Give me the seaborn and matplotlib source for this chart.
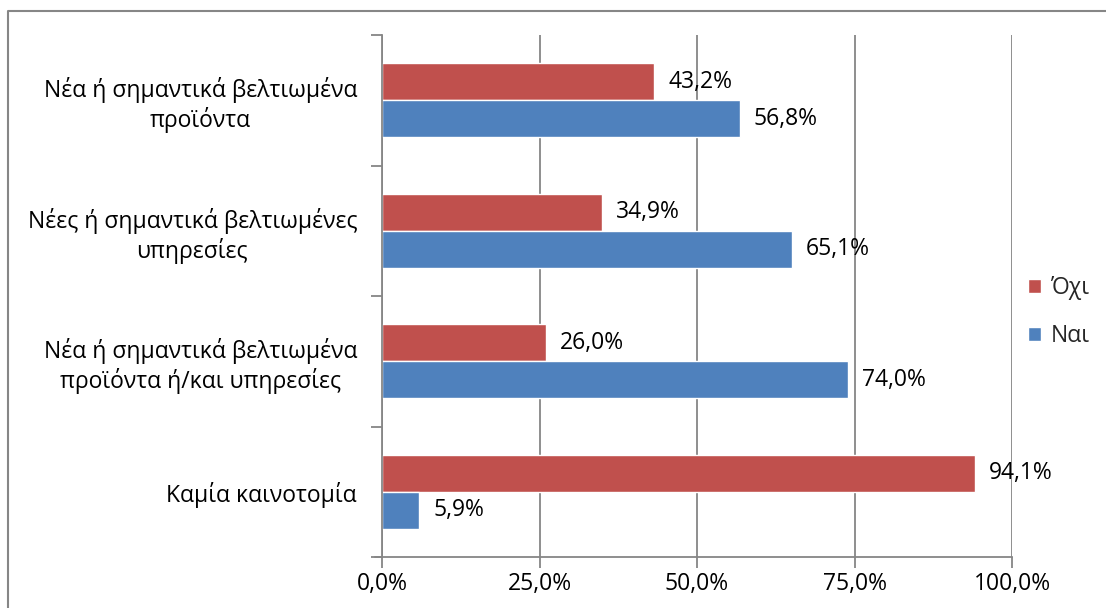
import matplotlib
matplotlib.use("Agg")
import matplotlib.pyplot as plt
import seaborn as sns
import pandas as pd
from matplotlib.lines import Line2D
from matplotlib.ticker import FixedLocator, FuncFormatter

categories = [
    "Νέα ή σημαντικά βελτιωμένα\nπροϊόντα",
    "Νέες ή σημαντικά βελτιωμένες\nυπηρεσίες",
    "Νέα ή σημαντικά βελτιωμένα\nπροϊόντα ή/και υπηρεσίες",
    "Καμία καινοτομία",
]
series_names = ["Όχι", "Ναι"]
oxi_values = [43.2, 34.9, 26.0, 94.1]
nai_values = [56.8, 65.1, 74.0, 5.9]
x_ticks = [0, 25, 50, 75, 100]

colors = {"Όχι": "#C0504D", "Ναι": "#4F81BD"}
grid_color = "#868686"

df = pd.DataFrame({
    "category": categories * 2,
    "series": [series_names[0]] * 4 + [series_names[1]] * 4,
    "value": oxi_values + nai_values,
})

sns.set_theme(style="white")
plt.rcParams["font.family"] = ["Open Sans", "DejaVu Sans"]
FS = 16.5

fig = plt.figure(figsize=(11.06, 6.08), dpi=100)
ax = fig.add_axes([382 / 1106, 1 - 557 / 608, 630 / 1106, 522 / 608])

sns.barplot(data=df, y="category", x="value", hue="series", order=categories,
            hue_order=series_names, palette=colors, orient="h", width=0.565,
            ax=ax, legend=True, saturation=1)

ax.set_xlim(0, 100)
ax.set_ylim(3.5, -0.5)
ax.set_xlabel("")
ax.set_ylabel("")

ax.xaxis.set_major_locator(FixedLocator(x_ticks))
ax.xaxis.set_major_formatter(FuncFormatter(lambda v, p: f"{v:.1f}%".replace(".", ",")))
ax.grid(axis="x", color=grid_color, linewidth=1.3)
ax.set_axisbelow(True)

for s in ["top", "right"]:
    ax.spines[s].set_visible(False)
for s in ["left", "bottom"]:
    ax.spines[s].set_color(grid_color)
    ax.spines[s].set_linewidth(1.3)

ax.tick_params(axis="x", direction="out", length=8, width=1.3, color=grid_color,
               labelsize=FS, pad=3, bottom=True)
ax.tick_params(axis="y", which="major", length=0, labelsize=FS, pad=18)
ax.yaxis.set_minor_locator(FixedLocator([-0.5, 0.5, 1.5, 2.5, 3.5]))
ax.tick_params(axis="y", which="minor", direction="out", length=8, width=1.3,
               color=grid_color, left=True)
for lab in ax.get_yticklabels():
    lab.set_multialignment("center")
    lab.set_color("black")
for lab in ax.get_xticklabels():
    lab.set_color("black")

for cont in ax.containers:
    labels = [f"{w:.1f}%".replace(".", ",") for w in cont.datavalues]
    ax.bar_label(cont, labels=labels, padding=10, fontsize=FS, color="black")

# extend bottom spine slightly left
ax.spines["bottom"].set_bounds(0, 100)
fig.add_artist(Line2D([375 / 1106, 382 / 1106], [1 - 557 / 608] * 2,
                      color=grid_color, linewidth=1.3))

leg = ax.get_legend()
handles = leg.legend_handles
leg.remove()
fig.legend(handles, series_names, loc="center left",
           bbox_to_anchor=(1012 / 1106, 1 - 312 / 608), frameon=False,
           fontsize=FS, handlelength=0.55, handleheight=0.55,
           labelspacing=1.05, handletextpad=0.45, borderpad=0.2)

# outer border (top and left)
fig.add_artist(Line2D([8 / 1106, 8 / 1106, 1.0], [0.0, 1 - 11 / 608, 1 - 11 / 608],
                      color=grid_color, linewidth=1.5))

fig.savefig("out.png", dpi=100)
